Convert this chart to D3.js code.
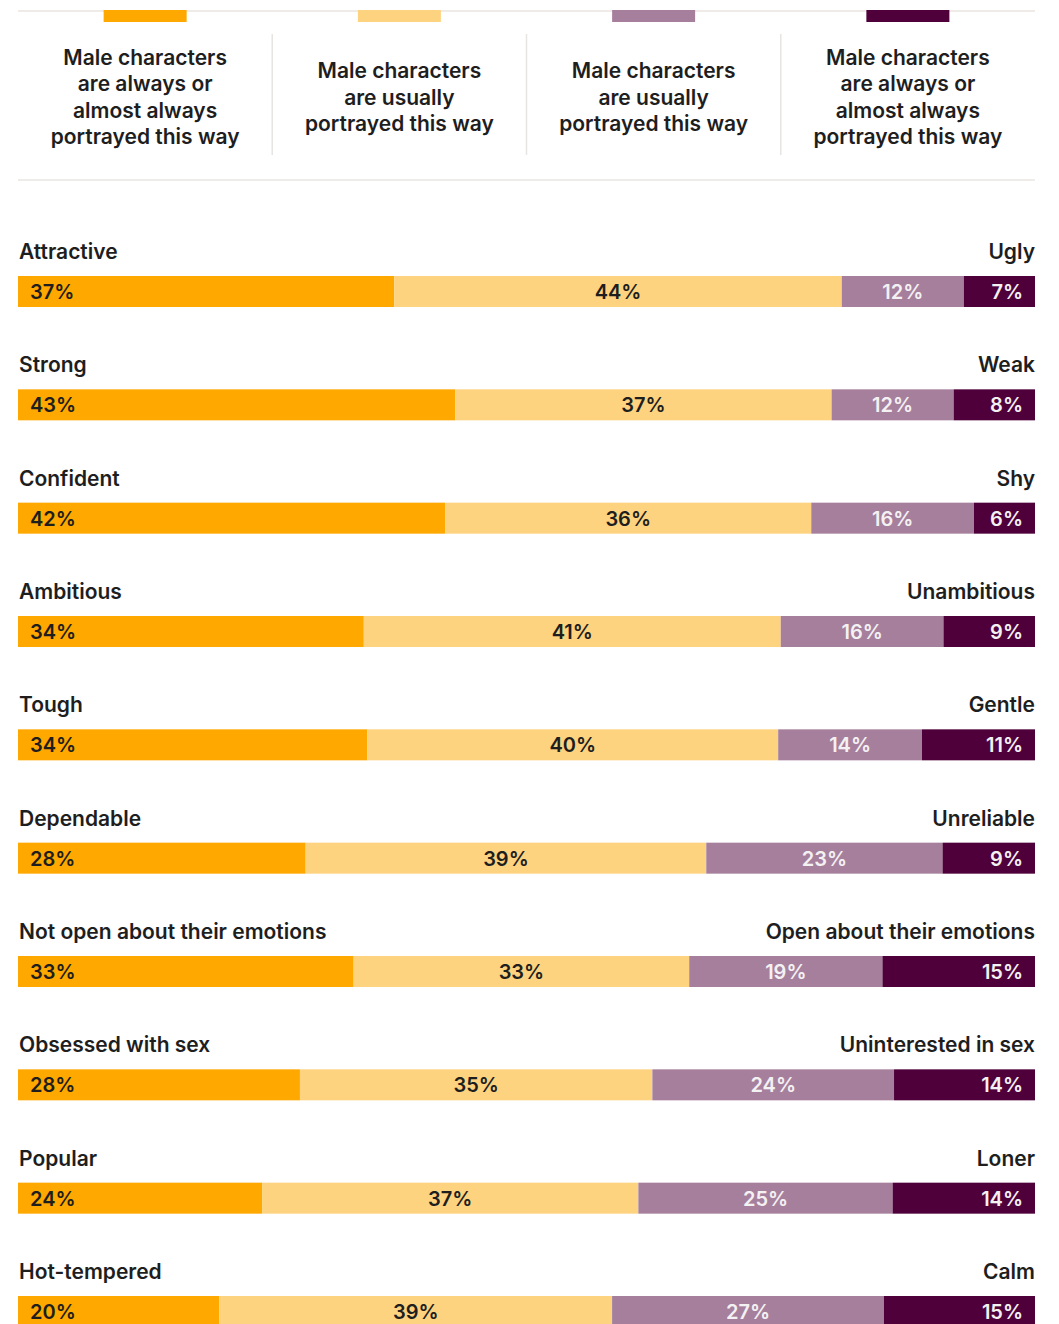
<!DOCTYPE html>
<html>
<head>
<meta charset="utf-8">
<script src="https://cdn.jsdelivr.net/npm/d3@7"></script>
<style>
  html, body { margin: 0; padding: 0; background: #ffffff; }
  svg { display: block; font-family: Inter, "Noto Sans", sans-serif; }
</style>
</head>
<body>
<svg id="chart" width="1059" height="1324"></svg>
<script>
// Traits shown on the left and their opposites on the right
const traits = ["Attractive", "Strong", "Confident", "Ambitious", "Tough", "Dependable",
  "Not open about their emotions", "Obsessed with sex", "Popular", "Hot-tempered"];
const opposites = ["Ugly", "Weak", "Shy", "Unambitious", "Gentle", "Unreliable",
  "Open about their emotions", "Uninterested in sex", "Loner", "Calm"];

// Share of respondents (%) for each answer, per trait
const alwaysTrait = [37, 43, 42, 34, 34, 28, 33, 28, 24, 20];
const usuallyTrait = [44, 37, 36, 41, 40, 39, 33, 35, 37, 39];
const usuallyOpposite = [12, 12, 16, 16, 14, 23, 19, 24, 25, 27];
const alwaysOpposite = [7, 8, 6, 9, 11, 9, 15, 14, 14, 15];

// Legend entries, one per answer, already broken into lines
const legendLines = [
  ["Male characters", "are always or", "almost always", "portrayed this way"],
  ["Male characters", "are usually", "portrayed this way"],
  ["Male characters", "are usually", "portrayed this way"],
  ["Male characters", "are always or", "almost always", "portrayed this way"]
];

const colors = ["#ffa800", "#fdd37f", "#a67f9c", "#4f003a"];
const labelColors = ["#1e1e1e", "#1e1e1e", "#f4f1f3", "#f4f1f3"];
const textColor = "#1e1e1e";
const ruleColor = "#e8e4e1";

const svg = d3.select("#chart");
const left = 18, right = 1035;
const barH = 31;

// ---- Legend ----
const legendX = d3.scaleBand().domain(d3.range(4)).range([left, right]).paddingInner(0);
const legend = svg.append("g");

legend.append("line")
  .attr("x1", left).attr("x2", right).attr("y1", 11).attr("y2", 11)
  .attr("stroke", ruleColor).attr("stroke-width", 1.5);

legend.selectAll("rect.swatch").data(colors).join("rect")
  .attr("class", "swatch")
  .attr("x", (d, i) => legendX(i) + legendX.bandwidth() / 2 - 41.5)
  .attr("y", 10).attr("width", 83).attr("height", 12)
  .attr("fill", d => d);

legend.selectAll("line.divider").data(d3.range(1, 4)).join("line")
  .attr("class", "divider")
  .attr("x1", i => legendX(i)).attr("x2", i => legendX(i))
  .attr("y1", 34).attr("y2", 155)
  .attr("stroke", ruleColor).attr("stroke-width", 1.5);

const lineH = 26.3;
legend.selectAll("text.legend").data(legendLines).join("text")
  .attr("class", "legend")
  .attr("text-anchor", "middle")
  .attr("fill", textColor)
  .attr("font-size", 21).attr("font-weight", 600)
  .each(function (lines, i) {
    const cx = legendX(i) + legendX.bandwidth() / 2;
    const firstBase = 104.5 - (lines.length - 1) * lineH / 2;
    d3.select(this).selectAll("tspan").data(lines).join("tspan")
      .attr("x", cx)
      .attr("y", (d, j) => firstBase + j * lineH)
      .text(d => d);
  });

legend.append("line")
  .attr("x1", left).attr("x2", right).attr("y1", 180).attr("y2", 180)
  .attr("stroke", ruleColor).attr("stroke-width", 1.5);

// ---- Rows ----
const rowY = d3.scaleLinear().domain([0, traits.length - 1]).range([276, 1296]);

const rows = traits.map((t, i) => {
  const vals = [alwaysTrait[i], usuallyTrait[i], usuallyOpposite[i], alwaysOpposite[i]];
  const total = d3.sum(vals);
  const x = d3.scaleLinear().domain([0, total]).range([left, right]);
  let acc = 0;
  const segs = vals.map((v, k) => {
    const s = { k, v, x0: x(acc), x1: x(acc + v) };
    acc += v;
    return s;
  });
  return { trait: t, opposite: opposites[i], segs, top: rowY(i) };
});

const row = svg.selectAll("g.row").data(rows).join("g")
  .attr("class", "row")
  .attr("transform", d => `translate(0,${d.top})`);

row.append("text")
  .attr("x", left + 1).attr("y", -17)
  .attr("fill", textColor).attr("font-size", 21).attr("font-weight", 600)
  .text(d => d.trait);

row.append("text")
  .attr("x", right).attr("y", -17).attr("text-anchor", "end")
  .attr("fill", textColor).attr("font-size", 21).attr("font-weight", 600)
  .text(d => d.opposite);

row.selectAll("rect.seg").data(d => d.segs).join("rect")
  .attr("class", "seg")
  .attr("x", s => s.x0).attr("y", 0)
  .attr("width", s => s.x1 - s.x0).attr("height", barH)
  .attr("fill", s => colors[s.k]);

row.selectAll("text.val").data(d => d.segs).join("text")
  .attr("class", "val")
  .attr("x", s => s.k === 0 ? s.x0 + 12 : s.k === 3 ? s.x1 - 12 : (s.x0 + s.x1) / 2)
  .attr("y", 23)
  .attr("text-anchor", s => s.k === 0 ? "start" : s.k === 3 ? "end" : "middle")
  .attr("fill", s => labelColors[s.k])
  .attr("font-size", 20).attr("font-weight", 600)
  .text(s => s.v + "%");
</script>
</body>
</html>
